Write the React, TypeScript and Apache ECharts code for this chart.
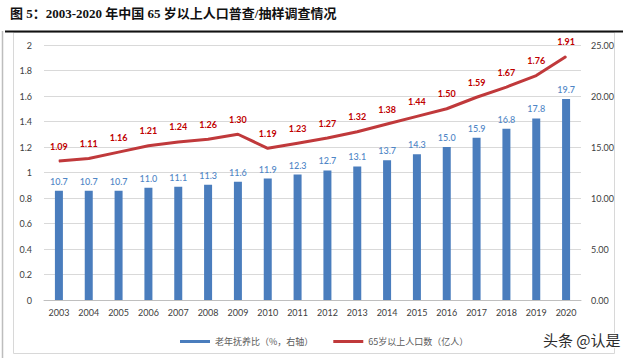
import React, { useEffect, useRef } from "react";
import * as echarts from "echarts";

const years = ["2003","2004","2005","2006","2007","2008","2009","2010","2011","2012","2013","2014","2015","2016","2017","2018","2019","2020"];
const dependencyRatio = [10.7,10.7,10.7,11.0,11.1,11.3,11.6,11.9,12.3,12.7,13.1,13.7,14.3,15.0,15.9,16.8,17.8,19.7];
const population65 = [1.09,1.11,1.16,1.21,1.24,1.26,1.30,1.19,1.23,1.27,1.32,1.38,1.44,1.50,1.59,1.67,1.76,1.91];
const barName = "老年抚养比（%，右轴）";
const lineName = "65岁以上人口数（亿人）";
const title = "图 5：2003-2020 年中国 65 岁以上人口普查/抽样调查情况";

const FONT = "Lato, 'Open Sans', 'Noto Sans CJK SC', sans-serif";

export default function App() {
  const ref = useRef<HTMLDivElement>(null);
  useEffect(() => {
    document.body.style.margin = "0";
    const chart = echarts.init(ref.current!, null, { renderer: "svg" });
    chart.setOption({
      animation: false,
      backgroundColor: "#ffffff",
      textStyle: { fontFamily: FONT },
      graphic: [
        { type: "rect", shape: { x: 13.5, y: 32.5, width: 601, height: 321 }, style: { fill: "none", stroke: "#d8d8d8", lineWidth: 1 }, silent: true },
        { type: "line", shape: { x1: 2.5, y1: 31, x2: 2.5, y2: 358 }, style: { stroke: "#bdbdbd", lineWidth: 1.5 }, silent: true },
        { type: "line", shape: { x1: 5, y1: 31.5, x2: 623, y2: 31.5 }, style: { stroke: "#111111", lineWidth: 2 }, silent: true },
        { type: "text", x: 10, y: 13, style: { text: title, font: "bold 13px 'Liberation Serif', 'Noto Sans CJK SC', serif", fill: "#111111", textVerticalAlign: "middle" } },
        { type: "text", x: 543, y: 339, style: { text: "头条 @认是", font: "15px 'Noto Sans CJK SC', sans-serif", fill: "#2b2b2b", stroke: "#ffffff", lineWidth: 2, textVerticalAlign: "middle" } }
      ],
      legend: {
        left: 175,
        top: 332,
        itemGap: 20,
        itemWidth: 30,
        itemHeight: 3,
        textStyle: { fontSize: 9, color: "#595959", fontFamily: "'Noto Sans CJK SC', serif" },
        data: [
          { name: barName, icon: "rect" },
          { name: lineName, icon: "rect" }
        ]
      },
      grid: { left: 44, right: 59, top: 45, bottom: 58 },
      xAxis: {
        type: "category",
        data: years,
        axisLine: { lineStyle: { color: "#bfbfbf" } },
        axisTick: { show: false },
        axisLabel: { fontSize: 9, color: "#404040", margin: 8 }
      },
      yAxis: [
        {
          type: "value", min: 0, max: 2, interval: 0.2,
          axisLabel: { fontSize: 9, color: "#404040", margin: 12, formatter: (v: number) => String(Math.round(v * 10) / 10) },
          splitLine: { lineStyle: { color: "#d9d9d9" } },
          axisLine: { show: false }, axisTick: { show: false }
        },
        {
          type: "value", min: 0, max: 25, interval: 5,
          axisLabel: { fontSize: 9, color: "#404040", margin: 10, formatter: (v: number) => v.toFixed(2) },
          splitLine: { show: false },
          axisLine: { show: false }, axisTick: { show: false }
        }
      ],
      series: [
        {
          name: barName,
          type: "bar",
          yAxisIndex: 1,
          data: dependencyRatio,
          barWidth: 8,
          itemStyle: { color: "#4a7dbd" },
          label: { show: true, position: "top", fontSize: 9, fontWeight: 500, color: "#4f86c6", formatter: (p: any) => p.value.toFixed(1) }
        },
        {
          name: lineName,
          type: "line",
          yAxisIndex: 0,
          data: population65,
          symbol: "circle",
          symbolSize: 1,
          showSymbol: true,
          lineStyle: { color: "#c0393b", width: 3 },
          itemStyle: { color: "#c0393b" },
          label: { show: true, position: "top", distance: 10, fontSize: 9, fontWeight: "bold", color: "#c00000", formatter: (p: any) => p.value.toFixed(2) }
        }
      ]
    });
    return () => chart.dispose();
  }, []);
  return <div ref={ref} style={{ width: 640, height: 358, position: "absolute", left: 0, top: 0 }} />;
}
